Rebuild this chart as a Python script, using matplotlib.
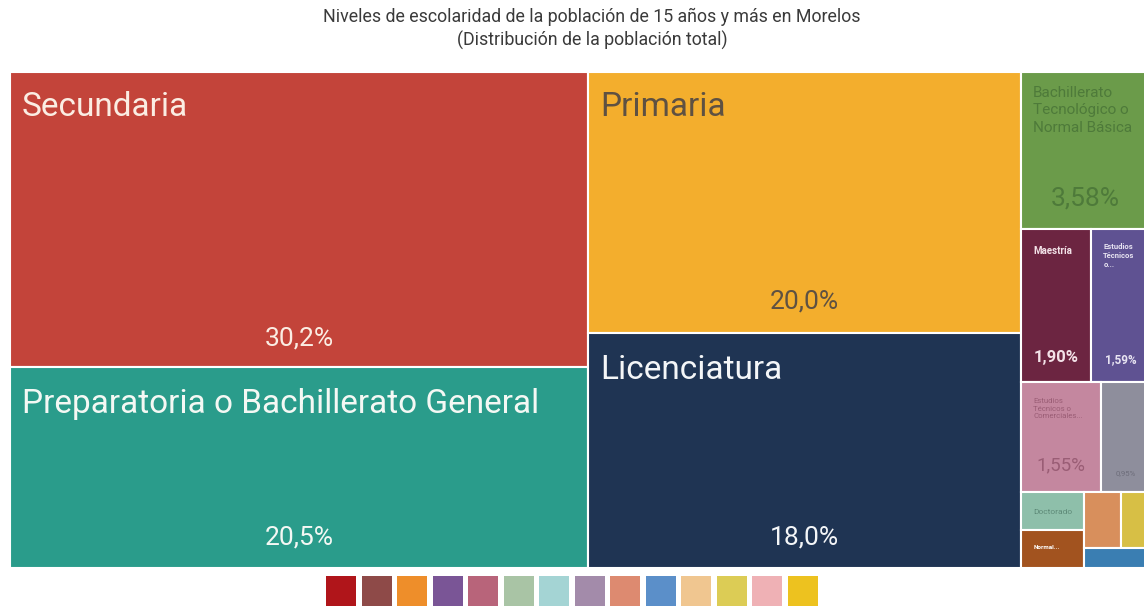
import matplotlib.pyplot as plt
from matplotlib.patches import Rectangle

plt.rcParams['font.family'] = ['Roboto', 'DejaVu Sans']

# Datos (porcentaje de la población de 15 años y más)
etiquetas = ["Secundaria", "Preparatoria o Bachillerato General", "Primaria", "Licenciatura",
             "Bachillerato\nTecnológico o\nNormal Básica", "Maestría", "Estudios\nTécnicos\no...",
             "Estudios\nTécnicos o\nComerciales...", "", "Doctorado", "Normal...", "", "", ""]
valores = [30.2, 20.5, 20.0, 18.0, 3.58, 1.90, 1.59, 1.55, 0.95, 0.42, 0.42, 0.37, 0.29, 0.23]
textos_valor = ["30,2%", "20,5%", "20,0%", "18,0%", "3,58%", "1,90%", "1,59%", "1,55%", "0,95%",
                "", "", "", "", ""]
colores = ["#C3443A", "#2A9C8B", "#F3AE2D", "#1F3453", "#6B9B4A", "#6C2541", "#5F5292",
           "#C4879F", "#8E8E9C", "#8EBFAA", "#A2531F", "#D88F5C", "#D7BF45", "#3A7EB2"]
colores_leyenda = ["#B0151A", "#8E4A48", "#EE8E2A", "#7A5596", "#B8647A", "#A9C4A5", "#A4D4D4",
                   "#A38BAA", "#DD8A70", "#5B8FC9", "#F0C690", "#DCCC55", "#EFB1B5", "#EDC21F"]

# agrupación del treemap (columnas -> filas -> columnas ...)
grupos = [[0, 1], [2, 3], [4, [5, 6], [7, 8], [[9, 10], [[11, 12], 13]]]]

# estilos de texto: (tam. etiqueta, tam. valor, color, negrita, dy etiqueta px, dy valor px)
estilos = [
    (24, 19, "#FBEDE3", False, 19, 29),
    (24, 19, "#F4F8F4", False, 21, 31),
    (24, 19, "#5E5142", False, 19, 32),
    (24, 19, "#F4F6F8", False, 21, 31),
    (11, 19, "#4E7A3A", False, 14, 31),
    (7, 12, "#F3E2E8", True, 17, 25),
    (5.5, 8.5, "#E8E4F2", True, 14, 23),
    (5.6, 13.5, "#9A5D75", False, 16, 27),
    (5.6, 5.6, "#6D6D7A", False, 12, 19),
    (6, 6, "#5E8A78", False, 17, 19),
    (4.5, 4.5, "#FFFFFF", True, 15, 19),
    (6, 6, "#FFFFFF", False, 12, 19),
    (6, 6, "#FFFFFF", False, 12, 19),
    (6, 6, "#FFFFFF", False, 12, 19),
]


def total(nodo):
    if isinstance(nodo, int):
        return valores[nodo]
    return sum(total(h) for h in nodo)


def distribuir(nodo, x, y, w, h, horizontal, salida):
    if isinstance(nodo, int):
        salida[nodo] = (x, y, w, h)
        return
    t = total(nodo)
    acum = 0
    for hijo in nodo:
        s = total(hijo)
        if horizontal:
            distribuir(hijo, x + acum / t * w, y, s / t * w, h, False, salida)
        else:
            distribuir(hijo, x, y + h - (acum + s) / t * h, w, s / t * h, True, salida)
        acum += s


rects = {}
distribuir(grupos, 0, 0, 1, 1, True, rects)

fig = plt.figure(figsize=(11.44, 6.07), dpi=100)
ax = fig.add_axes([10 / 1144, 39 / 607, 1140 / 1144, 496 / 607])
ax.set_xlim(0, 1)
ax.set_ylim(0, 1)
ax.axis('off')

px = 0.72  # puntos por pixel
for i, (x, y, w, h) in rects.items():
    ax.add_patch(Rectangle((x, y), w, h, facecolor=colores[i], edgecolor='white', linewidth=1.5))
    tam_et, tam_val, color, negrita, dy_et, dy_val = estilos[i]
    peso = 'bold' if negrita else 'normal'
    if etiquetas[i]:
        ax.annotate(etiquetas[i], (x, y + h), xytext=(12 * px, -dy_et * px), textcoords='offset points',
                    ha='left', va='top', fontsize=tam_et, color=color, fontweight=peso, linespacing=1.3)
    if textos_valor[i]:
        ax.annotate(textos_valor[i], (x + w / 2, y), xytext=(0, dy_val * px), textcoords='offset points',
                    ha='center', va='center', fontsize=tam_val, color=color, fontweight=peso)

fig.text(592 / 1144, 1 - 29 / 607,
         "Niveles de escolaridad de la población de 15 años y más en Morelos\n(Distribución de la población total)",
         ha='center', va='center', fontsize=12.8, color='#3A3A3A', linespacing=1.3)

# leyenda de colores
axl = fig.add_axes([326 / 1144, 1 / 607, 492 / 1144, 30 / 607])
axl.bar(range(len(colores_leyenda)), [1] * len(colores_leyenda), width=0.843, color=colores_leyenda)
axl.set_xlim(-0.4215, len(colores_leyenda) - 1 + 0.4215)
axl.set_ylim(0, 1)
axl.axis('off')

fig.savefig("out.png", dpi=100)
